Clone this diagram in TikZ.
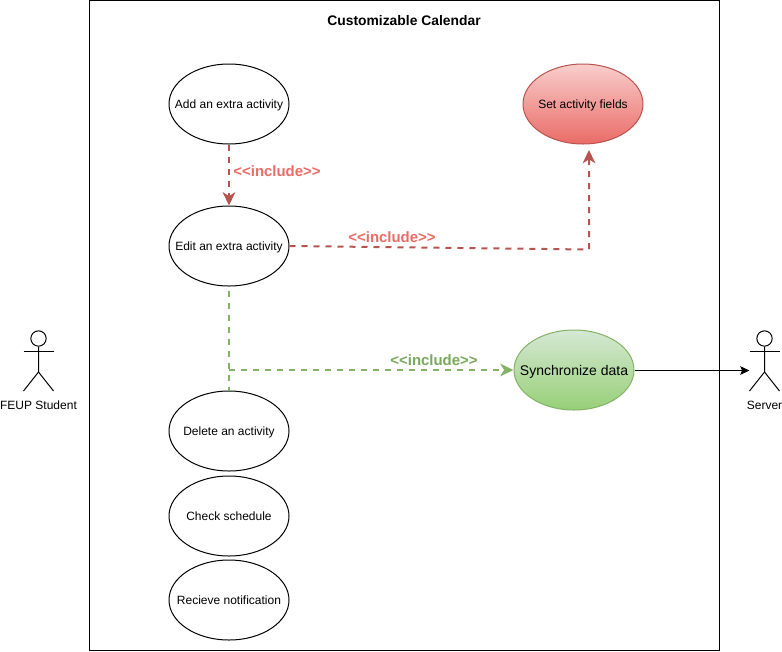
\documentclass[tikz,border=0pt]{standalone}
\usepackage{fontspec}
\setmainfont{Liberation Sans}
\usetikzlibrary{arrows.meta,shapes.geometric}
\definecolor{redline}{HTML}{B85450}
\definecolor{redtext}{HTML}{EA6B66}
\definecolor{redtop}{HTML}{F8CECC}
\definecolor{greenline}{HTML}{82B366}
\definecolor{greentext}{HTML}{77A85C}
\definecolor{greentop}{HTML}{D5E8D4}
\definecolor{greenbottom}{HTML}{97D077}
\newcommand{\casetext}[1]{\makebox[0pt]{\raisebox{-0.36em}[0pt][0pt]{#1}}}
\tikzset{
  usecase/.style={draw, ellipse, line width=0.75pt, minimum width=90pt, minimum height=60pt, inner sep=0pt, font=\fontsize{9}{11}\selectfont},
  redcase/.style={usecase, draw=redline, top color=redtop, bottom color=redtext},
  greencase/.style={usecase, draw=greenline, top color=greentop, bottom color=greenbottom, font=\fontsize{10.5}{12}\selectfont},
  redflow/.style={draw=redline, line width=1.5pt, dash pattern=on 4.5pt off 4.5pt},
  greenflow/.style={draw=greenline, line width=1.5pt, dash pattern=on 4.5pt off 4.5pt},
  bigtip/.style={-{Stealth[length=10pt,width=9.5pt,inset=3pt]}},
  inclabel/.style={font=\fontsize{11.2}{13}\selectfont\bfseries},
  actorlabel/.style={font=\fontsize{9}{11}\selectfont}
}
\begin{document}
\begin{tikzpicture}[x=0.75pt,y=-0.75pt]
  \useasboundingbox (0,0) rectangle (782,651);
  \node[draw, line width=0.75pt, minimum width=472.5pt, minimum height=487.5pt, inner sep=0pt] (system) at (404.5,325.5) {};
  \node[font=\fontsize{10.4}{12}\selectfont\bfseries] (title) at (404,21) {Customizable Calendar};
  % use cases
  \node[usecase] (add) at (229,104) {\casetext{Add an extra activity}};
  \node[usecase] (edit) at (229,246) {\casetext{Edit an extra activity}};
  \node[usecase] (delete) at (229,431) {\casetext{Delete an activity}};
  \node[usecase] (check) at (229,516) {\casetext{Check schedule}};
  \node[usecase] (notify) at (229,600) {\casetext{Recieve notification}};
  \node[redcase] (fields) at (583,104) {\casetext{Set activity fields}};
  \node[greencase] (sync) at (574,370) {\casetext{Synchronize data}};
  % actors
  \foreach \ax/\atext/\aname in {38.5/FEUP Student/student, 764.5/Server/server}{
    \node[draw, circle, line width=0.75pt, minimum size=11.5pt, inner sep=0pt] (\aname head) at (\ax,338.5) {};
    \draw[line width=0.75pt] (\aname head.south) -- (\ax,372) -- (\ax-15,391);
    \draw[line width=0.75pt] (\ax,372) -- (\ax+15,391);
    \draw[line width=0.75pt] (\ax-15,351.5) -- (\ax+15,351.5);
    \node[actorlabel] (\aname label) at (\ax,405.5) {\atext};
  }
  \coordinate (serverhand) at (749.5,370.5);
  \coordinate (fieldsend) at (589,150);
  \coordinate (fieldscorner) at (589,249.5);
  \coordinate (syncfork) at (edit.south |- sync.west);
  % include arrows
  \draw[redflow, bigtip] (add.south) -- (edit.north);
  \draw[redflow, bigtip] (edit.east) -- (fieldscorner) -- (fieldsend);
  \draw[greenflow, shorten <=3pt] (edit.south) -- (delete.north);
  \draw[greenflow, bigtip] (syncfork) -- (sync.west);
  \draw[line width=0.75pt, -{Stealth[length=7pt,width=6.5pt,inset=1.5pt]}] (sync.east |- serverhand) -- (serverhand);
  \node[inclabel, text=redtext] (addlabel) at (277,171) {<{}<include>{}>};
  \node[inclabel, text=redtext] (editlabel) at (392,237) {<{}<include>{}>};
  \node[inclabel, text=greentext] (synclabel) at (434,360) {<{}<include>{}>};
\end{tikzpicture}
\end{document}
